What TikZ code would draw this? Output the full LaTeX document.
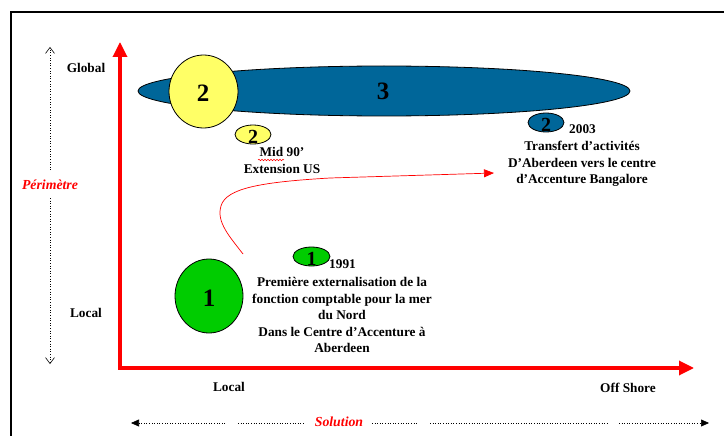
\documentclass[tikz,border=0pt]{standalone}
\usepackage{fontspec}
\setmainfont{Liberation Serif}
\usetikzlibrary{arrows.meta,shapes.geometric,decorations.pathmorphing}
\definecolor{accblue}{RGB}{0,102,153}
\definecolor{accyellow}{RGB}{255,255,102}
\definecolor{accgreen}{RGB}{0,204,0}
\definecolor{axred}{RGB}{255,0,0}
\tikzset{
  blob/.style={ellipse,draw=black,line width=0.8pt,inner sep=0pt},
  bignum/.style={font=\bfseries\fontsize{25}{25}\selectfont},
  smallnum/.style={font=\bfseries\fontsize{20}{20}\selectfont},
  lbl/.style={font=\bfseries\fontsize{13.3}{16.5}\selectfont,align=center,inner sep=0pt},
  redlbl/.style={font=\bfseries\itshape\fontsize{13.8}{14}\selectfont,text=axred,inner sep=0pt},
  axis/.style={draw=axred,line width=3.3pt,{Triangle[length=15pt,width=14pt]}-{Triangle[length=15pt,width=14pt]}},
  dotline/.style={draw=black,line width=0.6pt,dotted},
}
\begin{document}
\begin{tikzpicture}[x=1pt,y=-1pt]
\useasboundingbox (0,0) rectangle (724,436);
% frame
\draw[line width=2pt] (11,436) -- (11,12) -- (724,12);
% axes
\coordinate (ytop) at (120,42);
\coordinate (origin) at (120,368);
\coordinate (xend) at (694,368);
\draw[axis] (ytop) -- (origin) -- (xend);
% left dotted arrow
\node[redlbl] (perim) at (50,185) {Périmètre};
\coordinate (vtop) at (50,47);
\coordinate (vbot) at (50,364);
\coordinate (vup) at (50,170);
\coordinate (vdn) at (50,198);
\draw[dotline,-{Straight Barb[length=6pt,width=9pt,line width=0.6pt]}] (vup) -- (vtop);
\draw[dotline,-{Straight Barb[length=6pt,width=9pt,line width=0.6pt]}] (vdn) -- (vbot);
% bottom dotted arrow
\node[redlbl] (sol) at (339,422) {Solution};
\coordinate (h1) at (131,423); \coordinate (h2) at (225,423);
\coordinate (h3) at (238,423); \coordinate (h4) at (305,423);
\coordinate (h5) at (372,423); \coordinate (h6) at (417,423);
\coordinate (h7) at (430,423); \coordinate (h8) at (608,423);
\coordinate (h9) at (619,423); \coordinate (h10) at (709,423);
\draw[dotline,-{Triangle[length=8pt,width=7pt]}] (h2) -- (h1);
\draw[dotline] (h3) -- (h4);
\draw[dotline] (h5) -- (h6);
\draw[dotline] (h7) -- (h8);
\draw[dotline,-{Triangle[length=8pt,width=7pt]}] (h9) -- (h10);
% axis labels
\node[lbl] (glob) at (86,68) {Global};
\node[lbl] (locy) at (86,313) {Local};
\node[lbl] (locx) at (229,387) {Local};
\node[lbl] (off) at (628,388) {Off Shore};
% big blue ellipse
\node[blob,fill=accblue,minimum width=492pt,minimum height=50pt] (e3) at (384,91) {};
\node[bignum] (n3) at (383,91) {3};
% big yellow
\node[blob,fill=accyellow,minimum width=69pt,minimum height=73pt] (y2) at (203.5,91.5) {};
\node[bignum] (n2) at (203,93) {2};
% small yellow
\node[blob,fill=accyellow,minimum width=36pt,minimum height=19pt] (sy) at (253,134.5) {};
\node[smallnum] (sy2) at (253,137) {2};
\node[lbl] (mid) at (282,152) {Mid 90’};
\node[lbl] (ext) at (282,169) {Extension US};
\coordinate (sq1) at (258,160);
\coordinate (sq2) at (284,160);
\draw[axred,line width=0.5pt,decorate,decoration={snake,amplitude=0.8pt,segment length=3pt}] (sq1) -- (sq2);
% small blue
\node[blob,fill=accblue,minimum width=36pt,minimum height=19pt] (sb) at (546,122.5) {};
\node[smallnum] (sb2) at (546,124.5) {2};
\node[lbl] (y2003) at (582.5,129) {2003};
\node[lbl] (txt2) at (582,164) {Transfert d’activités\\D’Aberdeen vers le centre\\d’Accenture Bangalore};
% big green
\node[blob,fill=accgreen,minimum width=68pt,minimum height=74pt] (g1) at (209,296) {};
\node[bignum] (n1) at (209,298) {1};
% small green
\node[blob,fill=accgreen,minimum width=37pt,minimum height=19pt] (sg) at (311.5,256.5) {};
\node[smallnum] (sg1) at (311.5,258.5) {1};
\node[lbl] (y1991) at (342.5,264) {1991};
\node[lbl] (txt1) at (342,315) {Première externalisation de la\\fonction comptable pour la mer\\du Nord\\Dans le Centre d’Accenture à\\Aberdeen};
% red curve
\coordinate (cs) at (243,254);
\coordinate (cm) at (221,206);
\coordinate (ce) at (494,173);
\draw[axred,line width=0.7pt,-{Triangle[length=10pt,width=8pt]}] (cs) .. controls (230,237) and (216,222) .. (cm) .. controls (226,188) and (262,182) .. (330,178) -- (ce);
\end{tikzpicture}
\end{document}
